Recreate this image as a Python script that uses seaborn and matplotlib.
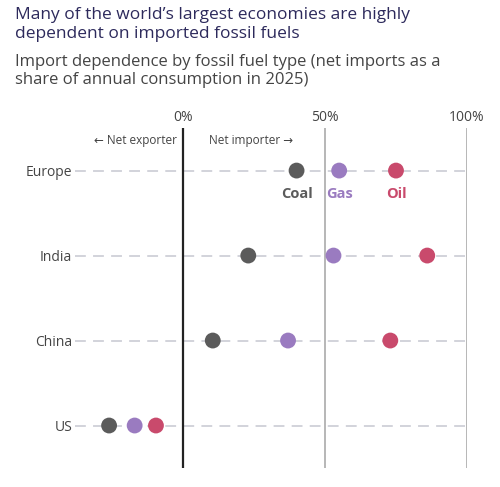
import numpy as np
import pandas as pd
import matplotlib.pyplot as plt
import seaborn as sns

regions = ["Europe", "India", "China", "US"]
coal = [40, 23, 10.5, -26]
gas = [55, 53, 37, -17]
oil = [75, 86, 73, -9.5]

colors = {"Coal": "#5b5b5b", "Gas": "#9a7bc0", "Oil": "#c94a6c"}

df = pd.DataFrame({"Region": regions, "Coal": coal, "Gas": gas, "Oil": oil})
df = df.melt(id_vars="Region", var_name="Fuel", value_name="Share")
df["y"] = df["Region"].map({r: i for i, r in enumerate(regions)})

sns.set_style("white")
plt.rcParams['font.family'] = ['Open Sans', 'DejaVu Sans']

fig = plt.figure(figsize=(5, 4.87), dpi=100)
ax = fig.add_axes([0.15, 0.039, 0.784, 0.698])

for i in range(len(regions)):
    ax.plot([-38, 100], [i, i], color="#cfd0d8", lw=1.3, ls=(0, (6, 4)), zorder=1)
ax.axvline(0, color="#222222", lw=1.6, zorder=2)
ax.axvline(50, color="#aaaaaa", lw=1.2, zorder=2)
ax.axvline(100, color="#aaaaaa", lw=1.2, zorder=2)

sns.scatterplot(data=df, x="Share", y="y", hue="Fuel", palette=colors, s=130,
                edgecolor="none", legend=False, ax=ax, zorder=3)

ax.set_xlim(-38, 100)
ax.set_ylim(3.5, -0.5)
ax.set_yticks(range(len(regions)))
ax.set_yticklabels(regions, fontsize=10, color="#444444")
ax.set_xticks([0, 50, 100])
ax.set_xticklabels(["0%", "50%", "100%"], fontsize=10, color="#444444")
ax.xaxis.tick_top()
ax.tick_params(length=0, pad=2)
ax.set_xlabel("")
ax.set_ylabel("")
for s in ax.spines.values():
    s.set_visible(False)

ax.text(-2, -0.35, "← Net exporter", ha="right", va="center", fontsize=8.5, color="#444444")
ax.text(9, -0.35, "Net importer →", ha="left", va="center", fontsize=8.5, color="#444444")
for fuel, v in zip(["Coal", "Gas", "Oil"], [coal[0], gas[0], oil[0]]):
    ax.text(v, 0.28, fuel, ha="center", va="center", fontsize=10.5,
            fontweight="bold", color=colors[fuel])

fig.text(0.03, 0.985, "Many of the world’s largest economies are highly\ndependent on imported fossil fuels",
         ha="left", va="top", fontsize=12.5, color="#2d2a5c", linespacing=1.2)
fig.text(0.03, 0.89, "Import dependence by fossil fuel type (net imports as a\nshare of annual consumption in 2025)",
         ha="left", va="top", fontsize=12, color="#444444", linespacing=1.2)

fig.savefig("out.png", dpi=100)
